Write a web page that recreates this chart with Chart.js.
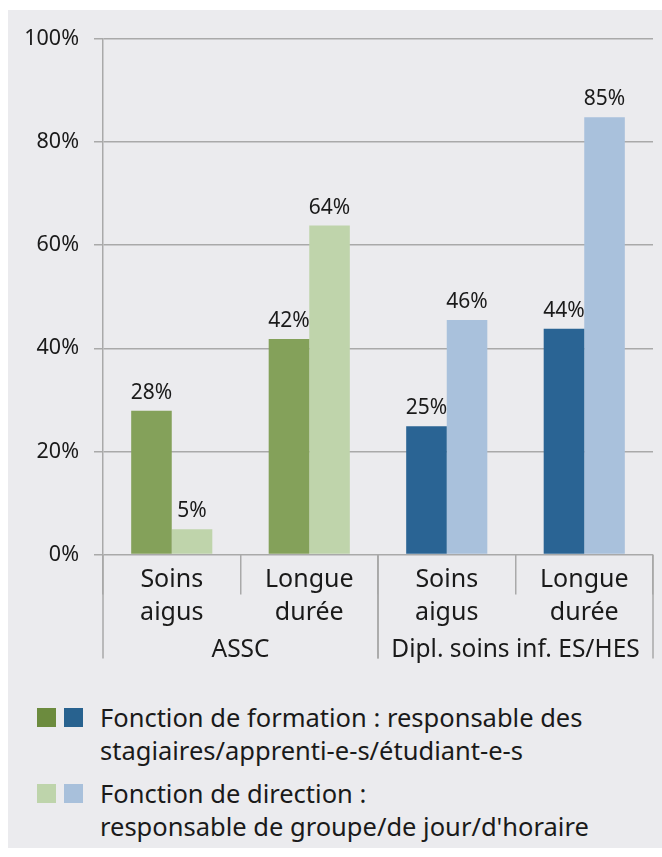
<!DOCTYPE html>
<html>
<head>
<meta charset="utf-8">
<script src="https://cdn.jsdelivr.net/npm/chart.js@4.4.0/dist/chart.umd.min.js"></script>
<style>
  body { margin: 0; width: 662px; height: 857px; position: relative; overflow: hidden; background: #fff;
         font-family: "Noto Sans", sans-serif; color: #1a1a1a; }
  #panel { position: absolute; left: 8px; top: 10px; width: 654px; height: 838px; background: #ebebee; }
  #wrap { position: absolute; left: 0; top: 0; width: 662px; height: 670px; }
  .row { position: absolute; left: 37px; }
  .sq { position: absolute; top: 0; width: 19px; height: 19px; }
  .txt { position: absolute; left: 63px; top: -7px; width: 580px; font-size: 25.5px; line-height: 33px; white-space: nowrap; }
</style>
</head>
<body>
<div id="panel"></div>
<div id="wrap"><canvas id="chart"></canvas></div>

<div class="row" style="top:708px">
  <div class="sq" style="left:0;background:#6c8b3e"></div>
  <div class="sq" style="left:27px;background:#28628f"></div>
  <div class="txt">Fonction de formation : responsable des<br>stagiaires/apprenti-e-s/étudiant-e-s</div>
</div>
<div class="row" style="top:784px">
  <div class="sq" style="left:0;background:#bed4ab"></div>
  <div class="sq" style="left:27px;background:#a8c0db"></div>
  <div class="txt">Fonction de direction :<br>responsable de groupe/de jour/d'horaire</div>
</div>

<script>
// categories (two levels)
const categories = [['Soins', 'aigus'], ['Longue', 'durée'], ['Soins', 'aigus'], ['Longue', 'durée']];
const groups = ['ASSC', 'Dipl. soins inf. ES/HES'];
const groupSizes = [2, 2];

// values in %
const formation = [27.9, 41.8, 24.9, 43.8];
const direction = [4.9, 63.8, 45.5, 84.8];

const darkColors = ['#84a15a', '#84a15a', '#2a6494', '#2a6494'];
const lightColors = ['#bfd4ab', '#bfd4ab', '#a9c1dc', '#a9c1dc'];
const gridColor = '#a9a9a9';
const textColor = '#1a1a1a';
const fontFamily = '"Noto Sans"';

// value labels above bars
const valueLabels = {
    id: 'valueLabels',
    afterDatasetsDraw(chart) {
        const ctx = chart.ctx;
        ctx.save();
        ctx.font = '21px ' + fontFamily;
        ctx.fillStyle = textColor;
        ctx.textAlign = 'center';
        ctx.textBaseline = 'middle';
        chart.data.datasets.forEach((ds, di) => {
            chart.getDatasetMeta(di).data.forEach((bar, i) => {
                ctx.fillText(Math.round(ds.data[i]) + '%', bar.x, bar.y - 18);
            });
        });
        ctx.restore();
    }
};

// second level of the x axis: group names and long separators
const groupAxis = {
    id: 'groupAxis',
    afterDraw(chart) {
        const x = chart.scales.x;
        const ctx = chart.ctx;
        const bottom = chart.chartArea.bottom;
        const step = x.getPixelForValue(1) - x.getPixelForValue(0);
        ctx.save();
        ctx.strokeStyle = gridColor;
        ctx.lineWidth = 1.5;
        ctx.font = '24.5px ' + fontFamily;
        ctx.fillStyle = textColor;
        ctx.textAlign = 'center';
        ctx.textBaseline = 'middle';
        let start = 0;
        groups.forEach((g, i) => {
            const left = x.getPixelForValue(start) - step / 2;
            const right = x.getPixelForValue(start + groupSizes[i] - 1) + step / 2;
            [left, right].forEach(px => {
                ctx.beginPath();
                ctx.moveTo(px, bottom);
                ctx.lineTo(px, bottom + 104);
                ctx.stroke();
            });
            ctx.fillText(g, (left + right) / 2, bottom + 96);
            start += groupSizes[i];
        });
        ctx.restore();
    }
};

new Chart(document.getElementById('chart'), {
    type: 'bar',
    data: {
        labels: categories,
        datasets: [
            { label: 'Fonction de formation', data: formation, backgroundColor: darkColors,
              categoryPercentage: 0.59, barPercentage: 1 },
            { label: 'Fonction de direction', data: direction, backgroundColor: lightColors,
              categoryPercentage: 0.59, barPercentage: 1 }
        ]
    },
    options: {
        responsive: true,
        maintainAspectRatio: false,
        animation: false,
        layout: { padding: { top: 39, right: 9, left: 0, bottom: 0 } },
        plugins: { legend: { display: false }, tooltip: { enabled: false } },
        scales: {
            x: {
                afterFit: (s) => { s.height = 115.5; },
                grid: { offset: true, drawOnChartArea: false, tickLength: 40, color: gridColor, lineWidth: 1.5 },
                border: { display: false },
                ticks: { color: textColor, padding: -30.5, font: { family: fontFamily, size: 25, lineHeight: 1.3 } }
            },
            y: {
                min: 0,
                max: 100,
                afterFit: (s) => { s.width = 103; },
                grid: { color: gridColor, lineWidth: 1.5, tickLength: 9 },
                border: { color: gridColor, width: 1.5 },
                ticks: { stepSize: 20, padding: 15, color: textColor,
                         font: { family: fontFamily, size: 21.5 }, callback: (v) => v + '%' }
            }
        }
    },
    plugins: [valueLabels, groupAxis]
});
</script>
</body>
</html>
